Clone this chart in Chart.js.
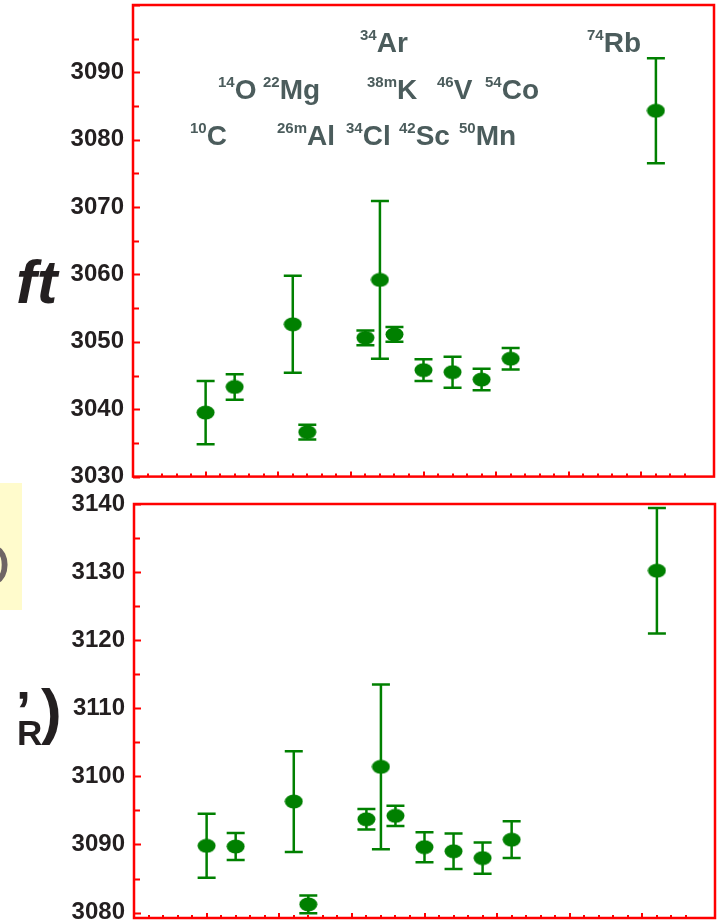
<!DOCTYPE html>
<html>
<head>
<meta charset="utf-8">
<script src="https://cdn.jsdelivr.net/npm/chart.js@4.4.0/dist/chart.umd.min.js"></script>
<style>
  html, body { margin: 0; padding: 0; background: #fff; overflow: hidden; }
  body { width: 719px; height: 923px; position: relative; font-family: "Liberation Sans", Arial, sans-serif; }
  .wrap { position: absolute; left: 0; width: 719px; }
  #topWrap { top: -20px; height: 520px; }
  #botWrap { top: 480px; height: 463px; }
  .iso { position: absolute; font-weight: bold; font-size: 28px; line-height: 28px; color: #4b5c5c; white-space: nowrap; }
  .iso span { font-size: 15px; position: relative; top: -12px; }
  .txt { position: absolute; font-weight: bold; color: #231f20; white-space: nowrap; }
  #yellow { position: absolute; left: 0; top: 483px; width: 22px; height: 127px; background: #fffbcc; overflow: hidden; }
</style>
</head>
<body>
<div class="wrap" id="topWrap"><canvas id="ftChart" width="719" height="520"></canvas></div>
<div class="wrap" id="botWrap"><canvas id="corrChart" width="719" height="463"></canvas></div>

<!-- isotope labels -->
<div class="iso" style="left:190px;top:122px"><span>10</span>C</div>
<div class="iso" style="left:218px;top:76px"><span>14</span>O</div>
<div class="iso" style="left:263px;top:76px"><span>22</span>Mg</div>
<div class="iso" style="left:277px;top:122px"><span>26m</span>Al</div>
<div class="iso" style="left:346px;top:122px"><span>34</span>Cl</div>
<div class="iso" style="left:360px;top:29px"><span>34</span>Ar</div>
<div class="iso" style="left:367px;top:76px"><span>38m</span>K</div>
<div class="iso" style="left:399px;top:122px"><span>42</span>Sc</div>
<div class="iso" style="left:437px;top:76px"><span>46</span>V</div>
<div class="iso" style="left:459px;top:122px"><span>50</span>Mn</div>
<div class="iso" style="left:485px;top:76px"><span>54</span>Co</div>
<div class="iso" style="left:587px;top:29px"><span>74</span>Rb</div>

<!-- axis titles on the left -->
<div class="txt" style="left:16px;top:251px;font-size:62px;line-height:62px;font-style:italic">ft</div>
<div id="yellow"><div class="txt" style="left:-37px;top:52px;font-size:61px;line-height:61px;font-weight:normal;color:#6f6565">O</div></div>
<div class="txt" style="left:16px;top:683px;font-size:54px;line-height:54px">’</div>
<div class="txt" style="left:17px;top:715px;font-size:35px;line-height:35px">R</div>
<div class="txt" style="left:41px;top:680px;font-size:62px;line-height:62px">)</div>

<script>
// daughter Z on the x axis
const isotopes = ['10C', '14O', '22Mg', '26mAl', '34Cl', '34Ar', '38mK', '42Sc', '46V', '50Mn', '54Co', '74Rb'];
const zDaughter = [5, 7, 11, 12, 16, 17, 18, 20, 22, 24, 26, 36];

// uncorrected ft values
const ftValues = [3039.5, 3043.3, 3052.6, 3036.6, 3050.6, 3059.2, 3051.1, 3045.8, 3045.5, 3044.4, 3047.5, 3084.3];
const ftErrors = [4.7, 1.9, 7.2, 1.1, 1.1, 11.7, 1.1, 1.6, 2.3, 1.6, 1.6, 7.8];

// ft with the radiative / isospin corrections applied
const corrValues = [3089.8, 3089.7, 3096.3, 3081.2, 3093.7, 3101.4, 3094.2, 3089.6, 3089.0, 3088.0, 3090.7, 3130.2];
const corrErrors = [4.7, 2.0, 7.4, 1.3, 1.5, 12.1, 1.5, 2.2, 2.6, 2.3, 2.7, 9.2];

const ftTicks = [3030, 3040, 3050, 3060, 3070, 3080, 3090];
const corrTicks = [3080, 3090, 3100, 3110, 3120, 3130, 3140];

const GREEN = '#008000';
const RED = '#ff0000';

// filled ellipse used as the point marker
const marker = document.createElement('canvas');
marker.width = 19;
marker.height = 15;
{
    const c = marker.getContext('2d');
    c.fillStyle = GREEN;
    c.beginPath();
    c.ellipse(9.5, 7.5, 9, 7, 0, 0, Math.PI * 2);
    c.fill();
}

// red frame, inward ticks and error bars
const framePlugin = {
    id: 'frame',
    beforeDatasetsDraw(chart, args, opts) {
        const ctx = chart.ctx;
        const area = chart.chartArea;
        const xs = chart.scales.x;
        const ys = chart.scales.y;
        ctx.save();

        // error bars
        ctx.strokeStyle = GREEN;
        ctx.lineWidth = 2.5;
        opts.values.forEach((v, i) => {
            const x = xs.getPixelForValue(zDaughter[i]);
            const yt = ys.getPixelForValue(v + opts.errors[i]);
            const yb = ys.getPixelForValue(v - opts.errors[i]);
            ctx.beginPath();
            ctx.moveTo(x, yt);
            ctx.lineTo(x, yb);
            ctx.moveTo(x - 9, yt);
            ctx.lineTo(x + 9, yt);
            ctx.moveTo(x - 9, yb);
            ctx.lineTo(x + 9, yb);
            ctx.stroke();
        });

        // ticks
        ctx.strokeStyle = RED;
        ctx.lineWidth = 2;
        ctx.beginPath();
        for (let v = Math.ceil(ys.min / 5) * 5; v <= ys.max; v += 5) {
            const y = Math.round(ys.getPixelForValue(v)) + 0.5;
            const len = v % 10 === 0 ? 7 : 6;
            ctx.moveTo(area.left, y);
            ctx.lineTo(area.left + len, y);
        }
        for (let z = 1; z < 39; z++) {
            const x = Math.round(xs.getPixelForValue(z));
            const len = z % 5 === 0 ? 5 : 3;
            ctx.moveTo(x, area.bottom);
            ctx.lineTo(x, area.bottom - len);
        }
        ctx.stroke();

        // frame
        ctx.lineWidth = 2.5;
        ctx.strokeRect(area.left, area.top, area.right - area.left, area.bottom - area.top);
        ctx.restore();
    }
};

function makeChart(id, values, errors, ticks, yMin, yMax, axisWidth, padding) {
    const points = zDaughter.map((z, i) => ({ x: z, y: values[i] }));
    return new Chart(document.getElementById(id), {
        type: 'scatter',
        data: {
            datasets: [{
                data: points,
                pointStyle: marker,
                pointRadius: 8,
                pointHoverRadius: 8
            }]
        },
        options: {
            responsive: false,
            animation: false,
            events: [],
            layout: { padding: padding, autoPadding: false },
            plugins: {
                legend: { display: false },
                tooltip: { enabled: false },
                frame: { values: values, errors: errors }
            },
            scales: {
                x: { type: 'linear', min: 0, max: 40, display: false },
                y: {
                    type: 'linear',
                    min: yMin,
                    max: yMax,
                    afterBuildTicks: scale => { scale.ticks = ticks.map(v => ({ value: v })); },
                    afterFit: scale => { scale.width = axisWidth; },
                    grid: { display: false, drawTicks: false },
                    border: { display: false },
                    ticks: {
                        padding: 9,
                        color: '#231f20',
                        callback: v => String(v),
                        font: { family: '"Liberation Sans", Arial, sans-serif', size: 24, weight: 'bold' }
                    }
                }
            }
        },
        plugins: [framePlugin]
    });
}

makeChart('ftChart', ftValues, ftErrors, ftTicks, 3030, 3100, 133,
    { top: 25, right: 5, bottom: 18, left: 0 });
makeChart('corrChart', corrValues, corrErrors, corrTicks, 3079.2, 3140, 134,
    { top: 24, right: 4, bottom: 25, left: 0 });
</script>
</body>
</html>
